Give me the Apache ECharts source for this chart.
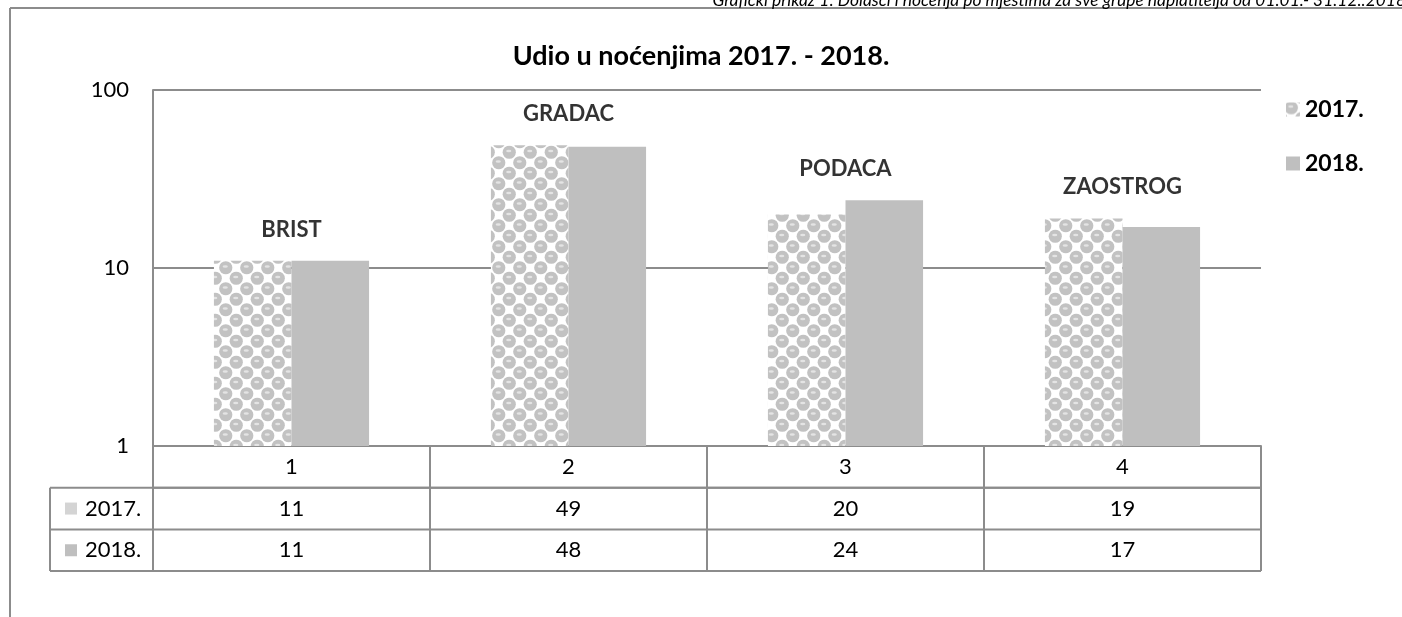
<!DOCTYPE html>
<html lang="hr">
<head>
<meta charset="utf-8">
<title>Udio u noćenjima 2017. - 2018.</title>
<style>
  * { padding: 0; margin: 0; }
  html, body, #chart { width: 1402px; height: 617px; background: #fff; overflow: hidden; }
</style>
</head>
<body>
<div id="chart"></div>
<script src="https://cdn.jsdelivr.net/npm/echarts@6/dist/echarts.min.js"></script>
<script>
// podaci
var categories = ['1', '2', '3', '4'];
var places = ['BRIST', 'GRADAC', 'PODACA', 'ZAOSTROG'];
var seriesNames = ['2017.', '2018.'];
var values2017 = [11, 49, 20, 19];
var values2018 = [11, 48, 24, 17];
var yTicks = [1, 10, 100];

var FONT = 'Lato, "Open Sans", sans-serif';
var LINE = '#8c8c8c';

// uzorak "kuglice" za 2017.
function makePattern() {
  var s = 21, h = s / 2;
  var c = document.createElement('canvas');
  c.width = s; c.height = s;
  var g = c.getContext('2d');
  g.fillStyle = '#ffffff';
  g.fillRect(0, 0, s, s);
  var pts = [[h / 2, h / 2], [h * 1.5, h * 1.5]];
  var all = [];
  pts.forEach(function (p) {
    [-s, 0, s].forEach(function (dx) {
      [-s, 0, s].forEach(function (dy) { all.push([p[0] + dx, p[1] + dy]); });
    });
  });
  all.forEach(function (p) {
    g.fillStyle = '#c2c2c2';
    g.beginPath(); g.arc(p[0], p[1], 6.6, 0, Math.PI * 2); g.fill();
  });
  all.forEach(function (p) {
    g.fillStyle = '#e4e4e4';
    g.beginPath(); g.ellipse(p[0] - 0.5, p[1] - 1.2, 2.6, 1.3, 0, 0, Math.PI * 2); g.fill();
  });
  return c;
}
var pattern = { image: makePattern(), repeat: 'repeat' };
var solid = '#bfbfbf';
var keyColor = '#d4d4d4';

var grid = { left: 153, right: 141, top: 90, bottom: 171 };
var W = 1402, H = 617;
var plotL = grid.left, plotR = W - grid.right, plotB = H - grid.bottom;
var colW = (plotR - plotL) / categories.length;
var rowH = 41.7;
var tableL = 50;

var groupMax = values2017.map(function (v, i) { return Math.max(v, values2018[i]); });

// tablica s podacima
var graphics = [];
function hline(x1, x2, y) {
  graphics.push({ type: 'line', shape: { x1: x1, y1: y, x2: x2, y2: y }, style: { stroke: LINE, lineWidth: 2 }, silent: true });
}
function vline(x, y1, y2) {
  graphics.push({ type: 'line', shape: { x1: x, y1: y1, x2: x, y2: y2 }, style: { stroke: LINE, lineWidth: 2 }, silent: true });
}
hline(plotL, plotR, plotB + rowH);
hline(tableL, plotR, plotB + rowH);
hline(tableL, plotR, plotB + rowH * 2);
hline(tableL, plotR, plotB + rowH * 3);
vline(tableL, plotB + rowH, plotB + rowH * 3);
for (var i = 0; i <= categories.length; i++) {
  vline(plotL + colW * i, plotB, plotB + rowH * 3);
}
var rows = [values2017, values2018];
var keys = [keyColor, solid];
rows.forEach(function (vals, r) {
  var cy = plotB + rowH * (r + 1.5);
  graphics.push({ type: 'rect', shape: { x: 65, y: cy - 6, width: 12, height: 12 }, style: { fill: keys[r] }, silent: true });
  graphics.push({ type: 'text', x: 85, y: cy, style: { text: seriesNames[r], font: '22px ' + FONT, fill: '#000', verticalAlign: 'middle' } });
  vals.forEach(function (v, c) {
    graphics.push({ type: 'text', x: plotL + colW * (c + 0.5), y: cy, style: { text: String(v), font: '22px ' + FONT, fill: '#000', align: 'center', verticalAlign: 'middle' } });
  });
});
// okvir i natpis
hline(10, W, 8);
vline(10, 8, H);
graphics.push({ type: 'text', right: -4, top: -8, style: { text: 'Grafički prikaz 1: Dolasci i noćenja po mjestima za sve grupe naplatitelja od 01.01.- 31.12..2018', font: 'italic 17.4px ' + FONT, fill: '#000' } });

var chart = echarts.init(document.getElementById('chart'));
chart.setOption({
  backgroundColor: '#fff',
  animation: false,
  title: {
    text: 'Udio u noćenjima 2017. - 2018.',
    left: 'center', top: 38,
    textStyle: { fontFamily: FONT, fontSize: 27, fontWeight: 'bold', color: '#000' }
  },
  legend: {
    data: seriesNames,
    orient: 'vertical', left: 1281, top: 93,
    icon: 'rect',
    itemWidth: 14, itemHeight: 14, itemGap: 31,
    textStyle: { fontFamily: FONT, fontSize: 23, fontWeight: 'bold', color: '#000' }
  },
  grid: grid,
  xAxis: {
    type: 'category',
    data: categories,
    axisLine: { show: true, lineStyle: { color: LINE, width: 2 } },
    axisTick: { show: false },
    axisLabel: { fontFamily: FONT, fontSize: 22, color: '#000', margin: 10 }
  },
  yAxis: {
    type: 'log', logBase: 10, min: yTicks[0], max: yTicks[yTicks.length - 1],
    axisLine: { show: true, lineStyle: { color: LINE, width: 2 } },
    axisTick: { show: false },
    splitLine: { show: true, lineStyle: { color: LINE, width: 2 } },
    axisLabel: { fontFamily: FONT, fontSize: 22, color: '#000', margin: 24 }
  },
  series: [
    { name: seriesNames[0], type: 'bar', data: values2017, barGap: '0%', barCategoryGap: '44%', itemStyle: { color: pattern } },
    { name: seriesNames[1], type: 'bar', data: values2018, itemStyle: { color: solid } },
    {
      type: 'scatter', data: groupMax, symbolSize: 0, silent: true,
      label: {
        show: true, position: 'top', distance: 20,
        formatter: function (p) { return places[p.dataIndex]; },
        fontFamily: FONT, fontSize: 22, fontWeight: 'bold', color: '#000'
      }
    }
  ],
  graphic: graphics
});
</script>
</body>
</html>
